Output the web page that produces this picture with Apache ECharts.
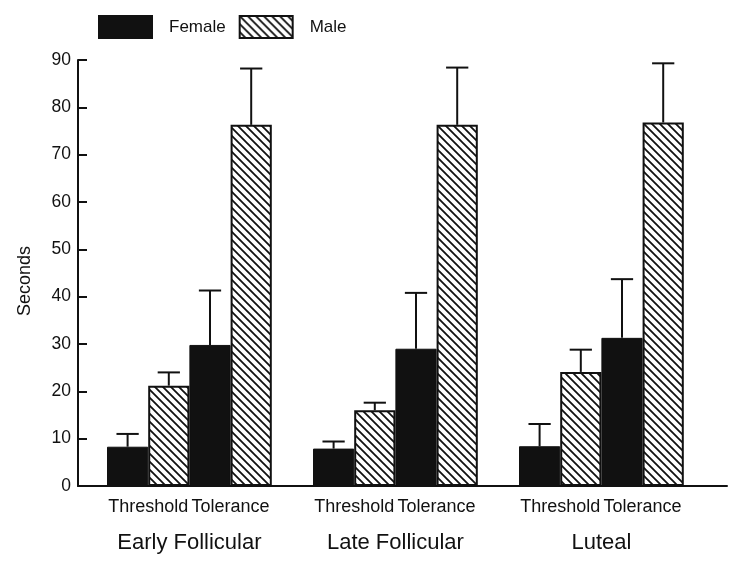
<!DOCTYPE html>
<html>
<head>
<meta charset="utf-8">
<script src="https://cdn.jsdelivr.net/npm/echarts@6/dist/echarts.min.js"></script>
<style>html,body{margin:0;padding:0;background:#fff;}#c{width:750px;height:565px;}</style>
</head>
<body>
<div id="c"></div>
<script>
// ---- data ----
var phases = ['Early Follicular', 'Late Follicular', 'Luteal'];
var measures = ['Threshold', 'Tolerance'];
var sexes = ['Female', 'Male'];
// order: [EF Threshold, EF Tolerance, LF Threshold, LF Tolerance, Lu Threshold, Lu Tolerance]
var femaleMean = [8.3, 29.8, 7.9, 29.0, 8.4, 31.3];
var femaleSE   = [2.7, 11.5, 1.5, 11.8, 4.7, 12.4];
var maleMean   = [21.2, 76.3, 16.0, 76.3, 24.1, 76.8];
var maleSE     = [2.8, 11.9, 1.6, 12.1, 4.7, 12.5];
var yTicks = [0, 10, 20, 30, 40, 50, 60, 70, 80, 90];

// ---- build slot layout: 5 slots per phase (4 bars + gap) ----
var SLOTS = phases.length * 5;
var slotCats = [];
for (var i = 0; i < SLOTS; i++) slotCats.push('s' + i);
var femaleData = new Array(SLOTS).fill(null);
var maleData = new Array(SLOTS).fill(null);
var errData = [];
var measureLabels = new Array(SLOTS + 1).fill('');
var phaseLabels = new Array(SLOTS + 1).fill('');
phases.forEach(function (ph, p) {
  phaseLabels[p * 5 + 2] = ph;
  measures.forEach(function (ms, m) {
    var k = p * 2 + m;
    var fs = p * 5 + m * 2;
    femaleData[fs] = femaleMean[k];
    maleData[fs + 1] = maleMean[k];
    errData.push([fs, femaleMean[k], femaleMean[k] + femaleSE[k]]);
    errData.push([fs + 1, maleMean[k], maleMean[k] + maleSE[k]]);
    measureLabels[fs + 1] = ms;
  });
});

// ---- hatch pattern ----
function makeHatch() {
  var c = document.createElement('canvas');
  c.width = 8; c.height = 8;
  var g = c.getContext('2d');
  g.fillStyle = '#fff'; g.fillRect(0, 0, 8, 8);
  g.strokeStyle = '#111'; g.lineWidth = 1.8;
  g.beginPath();
  g.moveTo(-2, -2); g.lineTo(10, 10);
  g.moveTo(-2, 6); g.lineTo(2, 10);
  g.moveTo(6, -2); g.lineTo(10, 2);
  g.stroke();
  return c;
}
var hatch = { image: makeHatch(), repeat: 'repeat' };

var FONT = "'Liberation Sans', Arial, Helvetica, sans-serif";
var INK = '#111';

var chart = echarts.init(document.getElementById('c'), null, { renderer: 'canvas' });
chart.setOption({
  backgroundColor: '#fff',
  animation: false,
  textStyle: { fontFamily: FONT, color: INK },
  legend: {
    data: sexes,
    left: 98, top: 15, padding: 0,
    itemWidth: 53, itemHeight: 22, itemGap: 13,
    icon: 'rect',
    textStyle: { fontSize: 17, color: INK, fontFamily: FONT, padding: [10, 0, 0, 12] }
  },
  grid: [
    { left: 78, right: 23, top: 60, bottom: 79 },
    { left: 107, right: 25, top: 60, bottom: 79 }
  ],
  xAxis: [
    { gridIndex: 0, type: 'value', min: 0, max: 1, position: 'bottom',
      axisLine: { show: true, lineStyle: { color: INK, width: 2 } },
      axisTick: { show: false }, axisLabel: { show: false }, splitLine: { show: false } },
    { gridIndex: 1, type: 'category', data: slotCats, position: 'bottom',
      axisLine: { show: false }, axisTick: { show: false }, axisLabel: { show: false } },
    { gridIndex: 1, type: 'category', data: measureLabels, boundaryGap: false, position: 'bottom',
      axisLine: { show: false }, axisTick: { show: false },
      axisLabel: { interval: 0, fontSize: 18, color: INK, fontFamily: FONT, margin: 12 } },
    { gridIndex: 1, type: 'category', data: phaseLabels, boundaryGap: false, position: 'bottom',
      axisLine: { show: false }, axisTick: { show: false },
      axisLabel: { interval: 0, fontSize: 22, color: INK, fontFamily: FONT, margin: 46 } }
  ],
  yAxis: [
    { gridIndex: 0, type: 'value', min: yTicks[0], max: yTicks[yTicks.length - 1], interval: 10,
      name: 'Seconds', nameLocation: 'middle', nameGap: 44,
      nameTextStyle: { fontSize: 18, color: INK, fontFamily: FONT, padding: [0, 16, 0, 0] },
      axisLine: { show: true, lineStyle: { color: INK, width: 2 } },
      axisTick: { show: true, inside: true, length: 9, lineStyle: { color: INK, width: 2 } },
      axisLabel: { fontSize: 17.5, color: INK, fontFamily: FONT, margin: 7 },
      splitLine: { show: false } },
    { gridIndex: 1, type: 'value', min: yTicks[0], max: yTicks[yTicks.length - 1], show: false }
  ],
  series: [
    { name: 'Female', type: 'bar', xAxisIndex: 1, yAxisIndex: 1, data: femaleData,
      barGap: '-100%', barCategoryGap: 0,
      itemStyle: { color: INK, borderColor: INK, borderWidth: 1 } },
    { name: 'Male', type: 'bar', xAxisIndex: 1, yAxisIndex: 1, data: maleData,
      barGap: '-100%', barCategoryGap: 0,
      itemStyle: { color: hatch, borderColor: INK, borderWidth: 2 } },
    { name: 'error', type: 'custom', xAxisIndex: 1, yAxisIndex: 1, data: errData, z: 5,
      renderItem: function (params, api) {
        var p0 = api.coord([api.value(0), api.value(1)]);
        var p1 = api.coord([api.value(0), api.value(2)]);
        var half = api.size([1, 0])[0] * 0.27;
        var st = { stroke: INK, lineWidth: 2 };
        return { type: 'group', children: [
          { type: 'line', shape: { x1: p0[0], y1: p0[1], x2: p1[0], y2: p1[1] }, style: st },
          { type: 'line', shape: { x1: p1[0] - half, y1: p1[1], x2: p1[0] + half, y2: p1[1] }, style: st }
        ] };
      } }
  ]
});
</script>
</body>
</html>
